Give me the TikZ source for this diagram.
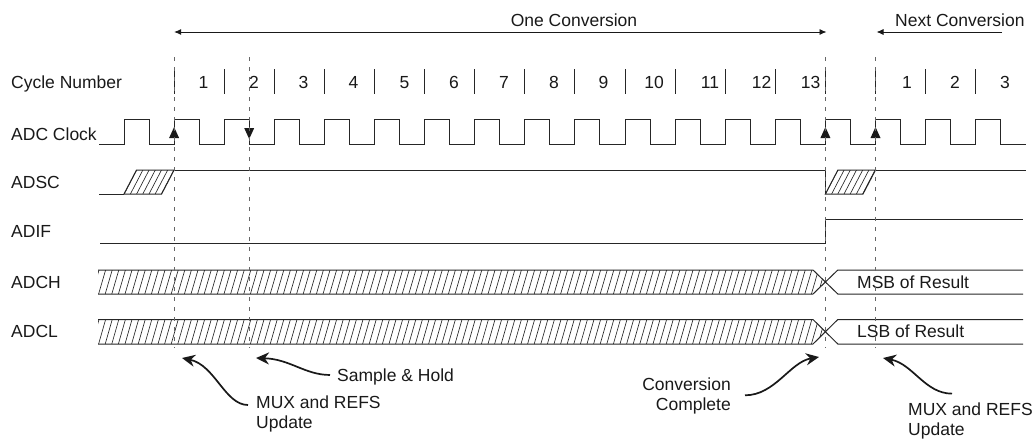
\documentclass[tikz,border=0pt]{standalone}
\usepackage{fontspec}
\setmainfont{Liberation Sans}
\usetikzlibrary{arrows.meta,calc}

\tikzset{
  sig/.style={draw=black!85, line width=1pt},
  hatch/.style={draw=black!85, line width=0.65pt},
  guide/.style={draw=black!60, line width=1pt, dash pattern=on 4pt off 6pt},
  lbl/.style={inner sep=0pt, font=\fontsize{17.5}{20}\selectfont, text=black!90},
  note/.style={draw=black!90, line width=1.7pt, -{Stealth[length=13pt,width=12pt]}},
  spanarrow/.style={draw=black!90, line width=0.9pt, -{Latex[length=7pt,width=6pt]}},
}

\begin{document}
\begin{tikzpicture}[x=1pt,y=-1pt]
                        \useasboundingbox (0,0) rectangle (1035,439);

                        \node[lbl,anchor=base west] (cyc) at (11,88) {Cycle Number};
                        \node[lbl,anchor=base west] (clk) at (11,140) {ADC Clock};
                        \node[lbl,anchor=base west] (adsc) at (11,188.5) {ADSC};
                        \node[lbl,anchor=base west] (adif) at (11,237.5) {ADIF};
                        \node[lbl,anchor=base west] (adch) at (11,288.5) {ADCH};
                        \node[lbl,anchor=base west] (adcl) at (11,337.5) {ADCL};

                        \coordinate (onel) at (174.1,32);
                        \coordinate (oner) at (826.5,32);
                        \draw[spanarrow,{Latex[length=7pt,width=6pt]}-{Latex[length=7pt,width=6pt]}] (onel) -- (oner);
                        \node[lbl,anchor=base] (one) at (574,26) {One Conversion};
                        \coordinate (nextr) at (1002,32);
                        \coordinate (nextl) at (876.5,32);
                        \draw[spanarrow] (nextr) -- (nextl);
                        \node[lbl,anchor=base west] (next) at (895,26.5) {Next Conversion};

                        \foreach \n/\x in {1/203.5,2/254,3/303.5,4/353.5,5/404.5,6/454,7/504,8/554,9/603.5,10/654,11/710,12/761.5,13/810.5}
                            \node[lbl,anchor=base] (cyc\n) at (\x,88) {\n};
                        \foreach \n/\x in {1/907,2/955,3/1005}
                            \node[lbl,anchor=base] (nxt\n) at (\x,88) {\n};
                        \foreach \k in {1,...,17}
                            \draw[sig] ({124+50.1*\k},69) -- ++(0,25);

                        \draw[sig] (99,144) -- (124,144)
                            \foreach \k in {0,...,17}{ -- ({124+50.1*\k},119) -- ({149+50.1*\k},119) -- ({149+50.1*\k},144) -- ({174.1+50.1*\k},144) };
                        \foreach \x in {174.1,825.4,875.5}
                            \fill[black!90] ({\x-5},138) -- ({\x+5},138) -- (\x,127) -- cycle;
                        \fill[black!90] (244.2,128) -- (254.2,128) -- (249.2,139) -- cycle;

                        \draw[sig] (99,194) -- (124,194);
                        \begin{scope}
                            \clip (124,194) -- (161.6,194) -- (174.1,170) -- (136.5,170) -- cycle;
                            \foreach \x in {118,124.2,...,176}
                                \draw[hatch] (\x,194) -- ++(12.5,-24);
                        \end{scope}
                        \draw[sig] (124,194) -- (161.6,194) -- (174.1,170) -- (136.5,170) -- cycle;
                        \draw[sig] (174.1,170) -- (825.4,170) -- (825.4,194);
                        \begin{scope}
                            \clip (825.4,194) -- (863,194) -- (875.5,170) -- (837.9,170) -- cycle;
                            \foreach \x in {819.2,825.4,...,878}
                                \draw[hatch] (\x,194) -- ++(12.5,-24);
                        \end{scope}
                        \draw[sig] (825.4,194) -- (863,194) -- (875.5,170) -- (837.9,170) -- cycle;
                        \draw[sig] (875.5,170) -- (1026,170);

                        \draw[sig] (100,243) -- (825.4,243) -- (825.4,219) -- (1023,219);

                        \begin{scope}
                            \clip (98,270) -- (813,270) -- (825.4,282) -- (813,294) -- (98,294) -- cycle;
                            \foreach \x in {92,98.6,...,830}
                                \draw[hatch] (\x,294) -- ++(7,-24);
                        \end{scope}
                        \draw[sig] (98,270) -- (813,270) -- (837.8,294) -- (1023,294);
                        \draw[sig] (98,294) -- (813,294) -- (837.8,270) -- (1023,270);
                        \node[lbl,anchor=base west] (msb) at (857,288) {MSB of Result};

                        \begin{scope}
                            \clip (98,319.5) -- (813,319.5) -- (825.4,331.75) -- (813,344) -- (98,344) -- cycle;
                            \foreach \x in {92,98.6,...,830}
                                \draw[hatch] (\x,344) -- ++(7,-24.5);
                        \end{scope}
                        \draw[sig] (98,319.5) -- (813,319.5) -- (837.8,344) -- (1023,344);
                        \draw[sig] (98,344) -- (813,344) -- (837.8,319.5) -- (1023,319.5);
                        \node[lbl,anchor=base west] (lsb) at (857,337.5) {LSB of Result};

                        \foreach \x in {174.1,249.2,825.4,875.5}
                            \draw[guide] (\x,57) -- (\x,348);

                        \node[lbl,anchor=west,align=left] (muxa) at (256,413.5) {MUX and REFS\\Update};
                        \coordinate (muxatip) at (182,358);
                        \draw[note] ($(muxa.west)+(-8,-8.5)$) .. controls +(-23,0) and +(33,7) .. (muxatip);
                        \node[lbl,anchor=base west] (sh) at (337,381.5) {Sample \& Hold};
                        \coordinate (shtip) at (256,358);
                        \draw[note] ($(sh.west)+(-7,-2)$) .. controls +(-25,0) and +(34,1) .. (shtip);
                        \node[lbl,anchor=east,align=right] (cc) at (731,396.3) {Conversion\\Complete};
                        \coordinate (cctip) at (819,357);
                        \draw[note] ($(cc.east)+(14,-1)$) .. controls +(30,0) and +(-29,5) .. (cctip);
                        \node[lbl,anchor=west,align=left] (muxb) at (908,421) {MUX and REFS\\Update};
                        \coordinate (muxbtip) at (883,358);
                        \draw[note] ($(muxb.north west)+(44,-9)$) .. controls +(-27,0) and +(30,6) .. (muxbtip);
                    \end{tikzpicture}
\end{document}
